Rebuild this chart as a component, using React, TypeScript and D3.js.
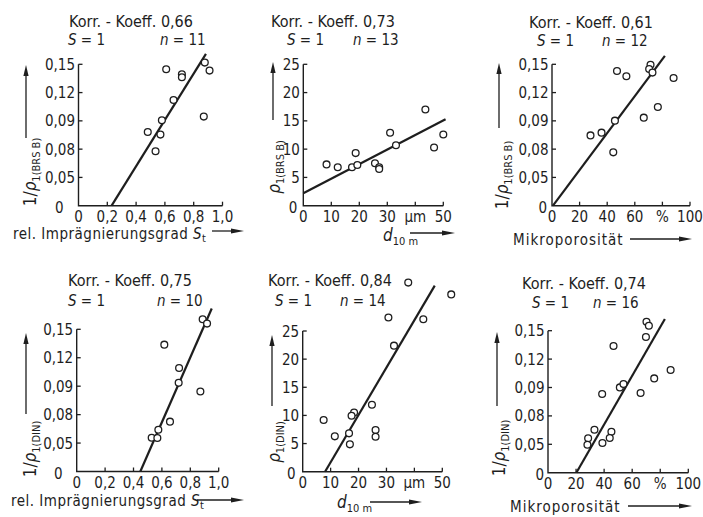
import React from "react";
import * as d3 from "d3";

const FONT = "'DejaVu Sans Condensed', 'Liberation Sans Narrow', 'DejaVu Sans', sans-serif";
const INK = "#1e1e1e";

// ---------- tick labels ----------
const yInvTickVals = [0, 0.03, 0.06, 0.09, 0.12, 0.15];
const yInvTickLabels = ["0", "0,05", "0,08", "0,09", "0,12", "0,15"];
const yRhoTickVals = [0, 5, 10, 15, 20, 25];
const yRhoTickLabels = ["0", "5", "10", "15", "20", "25"];
const xSTickVals = [0, 0.2, 0.4, 0.6, 0.8, 1.0];
const xSTickLabels = ["0", "0,2", "0,4", "0,6", "0,8", "1,0"];
const xDTickVals = [0, 10, 20, 30, 40, 50];
const xDTickLabels = ["0", "10", "20", "30", "µm", "50"];
const xMTickVals = [0, 20, 40, 60, 80, 100];
const xMTickLabels = ["0", "20", "40", "60", "%", "100"];

// ---------- headers ----------
const korrValues = ["0,66", "0,73", "0,61", "0,75", "0,84", "0,74"];
const nValues = ["11", "13", "12", "10", "14", "16"];

// ---------- data ----------
const p1X = [0.609, 0.718, 0.718, 0.877, 0.910, 0.660, 0.579, 0.481, 0.569, 0.535, 0.870];
const p1Y = [0.1447, 0.1394, 0.1362, 0.1518, 0.1433, 0.1121, 0.0906, 0.0782, 0.0754, 0.0577, 0.0945];
const p1Fit = [[0.23, 0], [0.885, 0.161]];

const p2X = [8.3, 12.3, 17.4, 18.7, 19.3, 25.6, 27.1, 27.1, 31.0, 33.1, 43.6, 46.7, 50.0];
const p2Y = [7.3, 6.8, 6.8, 9.3, 7.2, 7.5, 6.8, 6.5, 12.9, 10.7, 17.0, 10.3, 12.6];
const p2Fit = [[0, 2.2], [50.8, 15.3]];

const p3X = [27.9, 35.9, 45.6, 44.4, 47.1, 53.9, 66.5, 76.7, 71.4, 70.4, 72.8, 88.1];
const p3Y = [0.0746, 0.0775, 0.0902, 0.0566, 0.1429, 0.1373, 0.0934, 0.1047, 0.1496, 0.145, 0.1412, 0.1355];
const p3Fit = [[0.7, 0], [81.8, 0.159]];

const p4X = [0.887, 0.918, 0.617, 0.721, 0.718, 0.871, 0.657, 0.575, 0.528, 0.568];
const p4Y = [0.1606, 0.156, 0.1338, 0.1091, 0.0935, 0.0844, 0.0526, 0.0441, 0.0356, 0.0353];
const p4Fit = [[0.448, 0], [0.951, 0.172]];

const p5X = [37.8, 53.2, 30.7, 43.2, 32.7, 24.8, 18.4, 17.5, 7.5, 11.5, 16.6, 16.9, 26.1, 26.1];
const p5Y = [33.6, 31.5, 27.4, 27.1, 22.4, 11.9, 10.5, 9.95, 9.18, 6.28, 6.81, 4.86, 7.41, 6.22];
const p5Fit = [[8.0, 0], [47.3, 33.06]];

const p6X = [70.2, 71.9, 69.8, 46.7, 87.4, 75.7, 51.2, 53.8, 38.6, 66.0, 33.1, 28.6, 28.1, 38.8, 45.2, 44.0];
const p6Y = [0.1595, 0.1553, 0.1433, 0.1338, 0.1085, 0.0996, 0.0901, 0.0937, 0.0831, 0.0842, 0.0454, 0.0363, 0.0296, 0.0313, 0.0433, 0.0366];
const p6Fit = [[20.2, 0], [83.3, 0.1623]];

type Kind = "S" | "D" | "M";

interface PanelSpec {
  xs: number[]; ys: number[]; fit: number[][];
  korr: string; n: string;
  xKind: Kind; yInv: boolean; yDin: boolean;
  px: [number, number]; py: [number, number];
  title: [number, number]; sn: [number, number, number];
  ylab: [number, number]; yarrow: [number, number, number];
  xlab: [number, number]; xarrow: [number, number, number];
  zeroOff: number;
}

const panels: PanelSpec[] = [
  { xs: p1X, ys: p1Y, fit: p1Fit, korr: korrValues[0], n: nValues[0], xKind: "S", yInv: true, yDin: false,
    px: [78.5, 222.5], py: [205.7, 64.3], title: [131, 27], sn: [68, 160, 45],
    ylab: [36, 172], yarrow: [26, 138, 65], xlab: [13, 239], xarrow: [212, 244, 231], zeroOff: 15 },
  { xs: p2X, ys: p2Y, fit: p2Fit, korr: korrValues[1], n: nValues[1], xKind: "D", yInv: false, yDin: false,
    px: [303.3, 443.3], py: [205.7, 64.3], title: [333, 27], sn: [287, 353, 45],
    ylab: [280, 167], yarrow: [273, 120, 62], xlab: [383, 241], xarrow: [410, 455, 233], zeroOff: 6 },
  { xs: p3X, ys: p3Y, fit: p3Fit, korr: korrValues[2], n: nValues[2], xKind: "M", yInv: true, yDin: false,
    px: [552, 690], py: [205.7, 64.3], title: [591, 28], sn: [537, 602, 46],
    ylab: [508, 175], yarrow: [499, 128, 63], xlab: [513, 245], xarrow: [630, 692, 239], zeroOff: 5 },
  { xs: p4X, ys: p4Y, fit: p4Fit, korr: korrValues[3], n: nValues[3], xKind: "S", yInv: true, yDin: true,
    px: [76.7, 218.7], py: [471.5, 329.3], title: [130, 286], sn: [68, 157, 306],
    ylab: [36, 449], yarrow: [26, 414, 333], xlab: [11, 506], xarrow: [197, 244, 500], zeroOff: 14 },
  { xs: p5X, ys: p5Y, fit: p5Fit, korr: korrValues[4], n: nValues[4], xKind: "D", yInv: false, yDin: true,
    px: [302.7, 442.3], py: [471.7, 331], title: [330, 286], sn: [275, 340, 306],
    ylab: [280, 442], yarrow: [272, 406, 335], xlab: [337, 508], xarrow: [370, 422, 502], zeroOff: 7 },
  { xs: p6X, ys: p6Y, fit: p6Fit, korr: korrValues[5], n: nValues[5], xKind: "M", yInv: true, yDin: true,
    px: [548, 688.3], py: [472.7, 330.7], title: [584, 289], sn: [532, 593, 308],
    ylab: [505, 448], yarrow: [497, 406, 332], xlab: [510, 512], xarrow: [628, 692, 506], zeroOff: 4 },
];

function UpArrow({ x, y0, y1 }: { x: number; y0: number; y1: number }) {
  return (
    <g>
      <line x1={x} y1={y0} x2={x} y2={y1 + 8} stroke={INK} strokeWidth={1.3} />
      <path d={`M${x},${y1} L${x - 2.6},${y1 + 11} L${x + 2.6},${y1 + 11} Z`} fill={INK} />
    </g>
  );
}

function RightArrow({ x0, x1, y }: { x0: number; x1: number; y: number }) {
  return (
    <g>
      <line x1={x0} y1={y} x2={x1 - 8} y2={y} stroke={INK} strokeWidth={1.3} />
      <path d={`M${x1},${y} L${x1 - 13},${y - 2.6} L${x1 - 13},${y + 2.6} Z`} fill={INK} />
    </g>
  );
}

function Panel({ p }: { p: PanelSpec }) {
  const xDomain = p.xKind === "S" ? [0, 1] : p.xKind === "D" ? [0, 50] : [0, 100];
  const yDomain = p.yInv ? [0, 0.15] : [0, 25];
  const x = d3.scaleLinear().domain(xDomain).range(p.px);
  const y = d3.scaleLinear().domain(yDomain).range(p.py);
  const xTickVals = p.xKind === "S" ? xSTickVals : p.xKind === "D" ? xDTickVals : xMTickVals;
  const xTickLabels = p.xKind === "S" ? xSTickLabels : p.xKind === "D" ? xDTickLabels : xMTickLabels;
  const yTickVals = p.yInv ? yInvTickVals : yRhoTickVals;
  const yTickLabels = p.yInv ? yInvTickLabels : yRhoTickLabels;
  const line = d3.line<number[]>().x((d) => x(d[0])).y((d) => y(d[1]));
  const x0 = x(xDomain[0]);
  const xEnd = x(xDomain[1]);
  const yB = y(yDomain[0]);
  const yT = y(yDomain[1]);
  const sub = p.yDin ? "1(DIN)" : "1(BRS B)";

  return (
    <g fontFamily={FONT} fill={INK}>
      <text x={p.title[0]} y={p.title[1]} fontSize={16} textAnchor="middle">
        Korr. - Koeff. {p.korr}
      </text>
      <text x={p.sn[0]} y={p.sn[2]} fontSize={15}>
        <tspan fontStyle="italic">S</tspan> = 1
      </text>
      <text x={p.sn[1]} y={p.sn[2]} fontSize={15}>
        <tspan fontStyle="italic">n</tspan> = {p.n}
      </text>

      <path d={`M${x0},${yT} L${x0},${yB} L${xEnd},${yB}`} fill="none" stroke={INK} strokeWidth={1.4} />
      {yTickVals.filter((v) => v !== 0).map((v) => (
        <line key={"yt" + v} x1={x0} x2={x0 + 4} y1={y(v)} y2={y(v)} stroke={INK} strokeWidth={1.3} />
      ))}
      {xTickVals.filter((v) => v !== 0).map((v) => (
        <line key={"xt" + v} x1={x(v)} x2={x(v)} y1={yB} y2={yB - 4} stroke={INK} strokeWidth={1.3} />
      ))}
      {yTickVals.map((v, i) => (
        <text key={"yl" + v} x={v === 0 ? x0 - p.zeroOff : x0 - 3.5} y={y(v) + (v === 0 ? 7 : 5.5)}
          fontSize={15} textAnchor="end">{yTickLabels[i]}</text>
      ))}
      {xTickVals.map((v, i) => (
        <text key={"xl" + v} x={x(v)} y={yB + 16} fontSize={15} textAnchor="middle">{xTickLabels[i]}</text>
      ))}

      <path d={line(p.fit) || ""} fill="none" stroke={INK} strokeWidth={2.2} />

      {p.xs.map((xv, i) => (
        <circle key={i} cx={x(xv)} cy={y(p.ys[i])} r={3.4} fill="white" stroke={INK} strokeWidth={1.3} />
      ))}

      <UpArrow x={p.yarrow[0]} y0={p.yarrow[1]} y1={p.yarrow[2]} />
      <text transform={`translate(${p.ylab[0]},${p.ylab[1]}) rotate(-90)`} fontSize={17} textAnchor="middle">
        {p.yInv ? "1/" : ""}<tspan fontStyle="italic">ρ</tspan>
        <tspan fontSize={11} dy={4}>{sub}</tspan>
      </text>

      {p.xKind === "S" && (
        <text x={p.xlab[0]} y={p.xlab[1]} fontSize={15} letterSpacing={0.5}>
          rel. Imprägnierungsgrad <tspan fontStyle="italic">S</tspan>
          <tspan fontSize={11} dy={3}>t</tspan>
        </text>
      )}
      {p.xKind === "D" && (
        <text x={p.xlab[0]} y={p.xlab[1]} fontSize={17}>
          <tspan fontStyle="italic">d</tspan>
          <tspan fontSize={11} dy={4}>10 m</tspan>
        </text>
      )}
      {p.xKind === "M" && (
        <text x={p.xlab[0]} y={p.xlab[1]} fontSize={15} letterSpacing={1}>Mikroporosität</text>
      )}
      <RightArrow x0={p.xarrow[0]} x1={p.xarrow[1]} y={p.xarrow[2]} />
    </g>
  );
}

export default function App() {
  return (
    <svg width={703} height={517} style={{ position: "absolute", left: 0, top: 0, background: "white" }}>
      <rect width={703} height={517} fill="white" />
      {panels.map((p, i) => (
        <Panel key={i} p={p} />
      ))}
    </svg>
  );
}
